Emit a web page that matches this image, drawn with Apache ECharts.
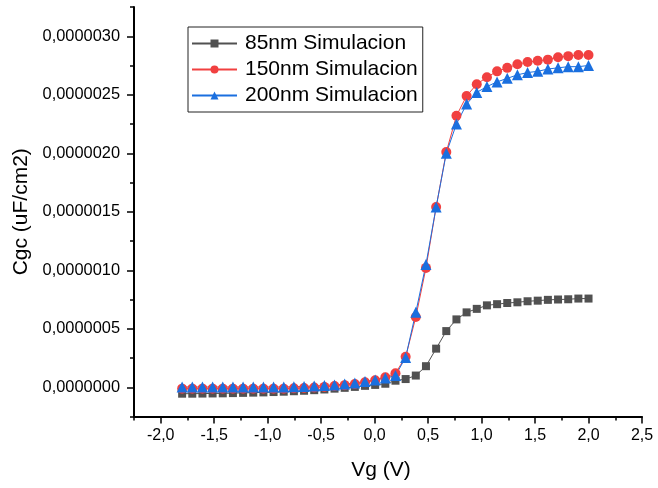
<!DOCTYPE html>
<html>
<head>
<meta charset="utf-8">
<script src="https://cdn.jsdelivr.net/npm/echarts@6/dist/echarts.min.js"></script>
<style>html,body{margin:0;padding:0;background:#fff;}#c{width:658px;height:488px;}</style>
</head>
<body>
<div id="c"></div>
<script>
// Vg (V)
var vg = [-1.800,-1.705,-1.610,-1.515,-1.420,-1.325,-1.230,-1.135,-1.040,-0.945,
  -0.850,-0.755,-0.660,-0.565,-0.470,-0.375,-0.280,-0.185,-0.090,0.005,
  0.100,0.195,0.290,0.385,0.480,0.575,0.670,0.765,0.860,0.955,
  1.050,1.145,1.240,1.335,1.430,1.525,1.620,1.715,1.810,1.905,2.000];
// Cgc values, in units of 1e-6 uF/cm2
var cgc85 = [-0.055,-0.055,-0.054,-0.053,-0.052,-0.050,-0.048,-0.046,-0.044,-0.041,
  -0.038,-0.034,-0.030,-0.025,-0.019,-0.012,-0.005,0.003,0.012,0.020,
  0.030,0.056,0.070,0.100,0.180,0.330,0.480,0.580,0.640,0.670,
  0.700,0.710,0.720,0.726,0.735,0.740,0.747,0.750,0.752,0.758,0.758];
var cgc150 = [-0.012,-0.012,-0.012,-0.012,-0.012,-0.012,-0.012,-0.012,-0.012,-0.012,
  -0.012,-0.009,-0.006,-0.002,0.003,0.010,0.018,0.028,0.042,0.060,
  0.085,0.120,0.260,0.600,1.020,1.540,2.010,2.320,2.490,2.590,
  2.650,2.700,2.730,2.760,2.780,2.790,2.800,2.820,2.830,2.840,2.840];
var cgc200 = [0.002,0.002,0.002,0.002,0.002,0.002,0.002,0.002,0.002,0.002,
  0.002,0.004,0.007,0.010,0.015,0.020,0.027,0.036,0.050,0.062,
  0.078,0.100,0.255,0.640,1.050,1.540,2.000,2.250,2.420,2.520,
  2.570,2.610,2.640,2.670,2.690,2.700,2.720,2.730,2.740,2.740,2.750];
var seriesNames = ['85nm Simulacion','150nm Simulacion','200nm Simulacion'];
var xMajor = [-2.0,-1.5,-1.0,-0.5,0.0,0.5,1.0,1.5,2.0,2.5];
var xMinor = [-2.25,-1.75,-1.25,-0.75,-0.25,0.25,0.75,1.25,1.75,2.25];
var yMajor = [0,0.5,1.0,1.5,2.0,2.5,3.0];
var yMinor = [-0.25,0.25,0.75,1.25,1.75,2.25,2.75,3.25];

function pairs(ys){ return vg.map(function(x,i){ return [x, ys[i]]; }); }

var FONT = 'Liberation Sans, Arial, sans-serif';
var chart = echarts.init(document.getElementById('c'), null, {renderer:'canvas'});
var axisLine = {show:true, onZero:false, lineStyle:{color:'#000', width:2}};
var option = {
  backgroundColor:'#fff',
  animation:false,
  grid:{left:134, right:16, top:7, bottom:71.5},
  legend:{
    orient:'vertical', left:188, top:27,
    data:seriesNames,
    itemWidth:45, itemHeight:10, itemGap:5,
    padding:[6,5,6,3],
    borderColor:'#222', borderWidth:1,
    textStyle:{fontFamily:FONT, fontSize:21, color:'#000', lineHeight:20, padding:[0,0,0,3]}
  },
  xAxis:[{
    type:'value', min:-2.25, max:2.5,
    name:'Vg (V)', nameLocation:'middle', nameGap:54,
    nameTextStyle:{fontFamily:FONT, fontSize:21, color:'#000', verticalAlign:'middle', padding:[0,14,0,0]},
    axisLine:axisLine,
    axisTick:{show:true, inside:false, length:7, lineStyle:{color:'#000', width:1.5}, customValues:xMajor},
    axisLabel:{show:true, margin:11, fontFamily:FONT, fontSize:16, color:'#000', customValues:xMajor,
      formatter:function(v){ return v.toFixed(1).replace('.', ','); }},
    splitLine:{show:false}
  },{
    type:'value', min:-2.25, max:2.5, position:'bottom',
    axisLine:{show:false, onZero:false},
    axisTick:{show:true, inside:false, length:4, lineStyle:{color:'#000', width:1.5}, customValues:xMinor},
    axisLabel:{show:false},
    splitLine:{show:false}
  }],
  yAxis:[{
    type:'value', min:-0.25, max:3.25,
    name:'Cgc (uF/cm2)', nameLocation:'middle', nameGap:108, nameRotate:90,
    nameTextStyle:{fontFamily:FONT, fontSize:21, color:'#000', verticalAlign:'middle'},
    axisLine:axisLine,
    axisTick:{show:true, inside:false, length:7, lineStyle:{color:'#000', width:1.5}, customValues:yMajor},
    axisLabel:{show:true, margin:14, fontFamily:FONT, fontSize:16.4, color:'#000', customValues:yMajor,
      formatter:function(v){ var s = Math.round(v*10).toString(); if (s.length<2) s='0'+s; return '0,00000'+s; }},
    splitLine:{show:false}
  },{
    type:'value', min:-0.25, max:3.25, position:'left',
    axisLine:{show:false, onZero:false},
    axisTick:{show:true, inside:false, length:4, lineStyle:{color:'#000', width:1.5}, customValues:yMinor},
    axisLabel:{show:false},
    splitLine:{show:false}
  }],
  series:[
    {name:seriesNames[0], type:'line', data:pairs(cgc85), symbol:'rect', symbolSize:8,
      color:'#515151', lineStyle:{width:1, color:'#515151'}, itemStyle:{color:'#515151'}},
    {name:seriesNames[1], type:'line', data:pairs(cgc150), symbol:'circle', symbolSize:10,
      color:'#F14040', lineStyle:{width:1, color:'#F14040'}, itemStyle:{color:'#F14040'}},
    {name:seriesNames[2], type:'line', data:pairs(cgc200), symbol:'triangle', symbolSize:11,
      color:'#1A6FDF', lineStyle:{width:1, color:'#1A6FDF'}, itemStyle:{color:'#1A6FDF'}}
  ]
};
chart.setOption(option);
</script>
</body>
</html>
